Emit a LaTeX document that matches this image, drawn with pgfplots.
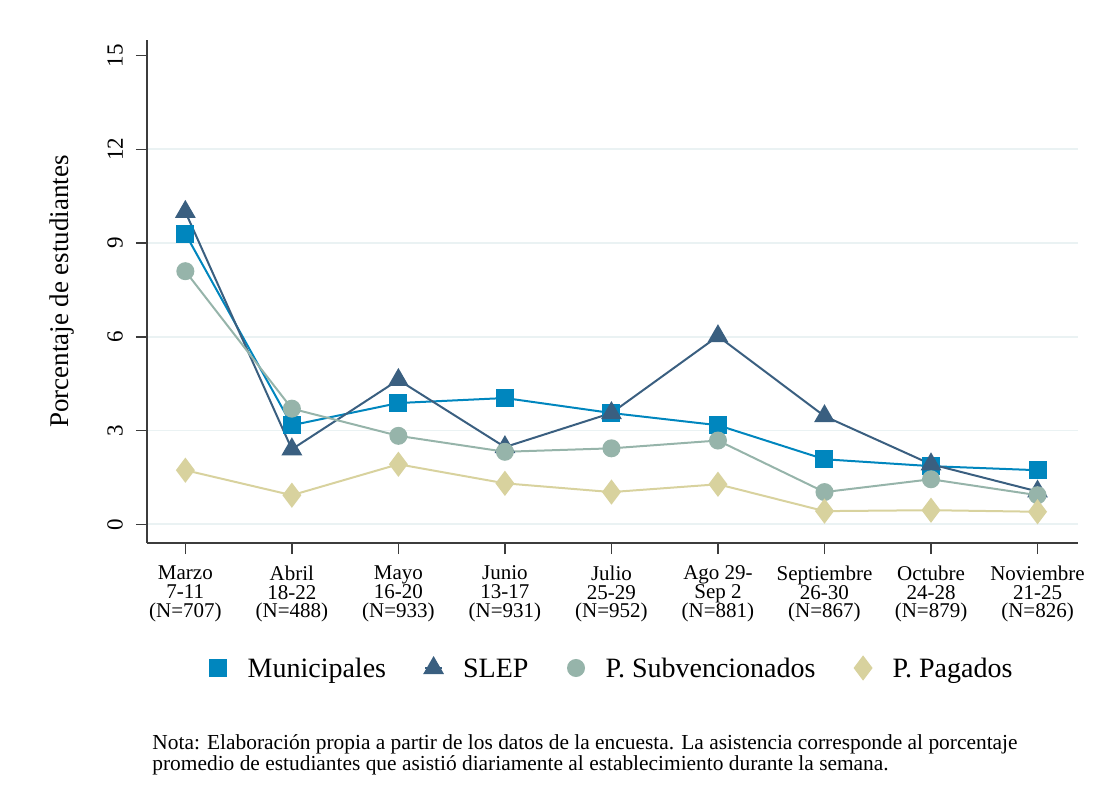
\documentclass[border=0pt]{standalone}
\usepackage{pgfplots}
\pgfplotsset{compat=1.18}
\usepackage{fontspec}
\setmainfont{Liberation Serif}

\definecolor{muni}{RGB}{0,134,190}
\definecolor{slep}{RGB}{58,95,128}
\definecolor{subv}{RGB}{150,180,170}
\definecolor{paga}{RGB}{216,210,158}
\definecolor{gridc}{RGB}{234,242,243}
\definecolor{axc}{RGB}{60,60,60}

\newcommand\ticklabfont{\fontsize{10.5}{9.3}\selectfont\lineskiplimit=-20pt\relax\lineskip=0pt\relax}

\begin{document}
\begin{tikzpicture}
% page frame, 1px = 0.5pt
\path[use as bounding box] (-73.5pt,-129.5pt) rectangle (479.5pt,271.5pt);

\begin{axis}[
    at={(0,0)}, anchor=south west,
    scale only axis,
    width=465.5pt, height=251.5pt,
    xmin=-0.36, xmax=8.38,
    ymin=-0.6, ymax=15.5,
    axis x line*=bottom, axis y line*=left,
    axis line style={axc, line width=0.75pt},
    xtick={0,...,8},
    xticklabels={
        {Marzo\\7-11\\(N=707)},
        {Abril\\18-22\\(N=488)},
        {Mayo\\16-20\\(N=933)},
        {Junio\\13-17\\(N=931)},
        {Julio\\25-29\\(N=952)},
        {Ago 29-\\Sep 2\\(N=881)},
        {Septiembre\\26-30\\(N=867)},
        {Octubre\\24-28\\(N=879)},
        {Noviembre\\21-25\\(N=826)}},
    xticklabel style={align=center, font=\ticklabfont, yshift=-2.5pt},
    ytick={0,3,...,12},
    extra y ticks={15},
    extra y tick style={grid=none},
    yticklabel style={rotate=90, anchor=south, font=\fontsize{11.5}{12}\selectfont, yshift=3pt},
    /pgf/number format/assume math mode=true,
    tick align=outside,
    major tick length=5.5pt,
    tick style={axc, line width=0.75pt},
    ymajorgrids,
    grid style={gridc, line width=0.9pt},
    ylabel={Porcentaje de estudiantes},
    every axis y label/.style={at={(axis description cs:-0.0913,0.5)}, anchor=center, rotate=90,
        font=\fontsize{13.5}{14}\selectfont},
    legend columns=4,
    legend style={at={(0.5,-0.2485)}, anchor=center, draw=none, fill=none,
        font=\fontsize{14}{15}\selectfont,
        /tikz/every odd column/.append style={column sep=8pt},
        /tikz/every even column/.append style={column sep=17pt}},
    legend image code/.code={
        \draw[#1, mark repeat=2, mark phase=2] plot coordinates {(-0.1cm,0cm)(0.05cm,0cm)(0.2cm,0cm)};},
]

\addplot[muni, line width=1pt, mark=square*, mark size=4pt, mark options={fill=muni, draw=muni}] coordinates {
    (0,9.30) (1,3.17) (2,3.88) (3,4.04) (4,3.56) (5,3.17) (6,2.08) (7,1.86) (8,1.73)
};
\addlegendentry{Municipales\strut}

\addplot[slep, line width=1pt, mark=triangle*, mark size=5pt, mark options={fill=slep, draw=slep}] coordinates {
    (0,10.00) (1,2.40) (2,4.62) (3,2.47) (4,3.56) (5,6.02) (6,3.46) (7,1.92) (8,1.05)
};
\addlegendentry{SLEP\strut}

\addplot[subv, line width=1pt, mark=*, mark size=4pt, mark options={fill=subv, draw=subv}] coordinates {
    (0,8.10) (1,3.70) (2,2.83) (3,2.32) (4,2.43) (5,2.68) (6,1.03) (7,1.44) (8,0.93)
};
\addlegendentry{P. Subvencionados\strut}

\addplot[paga, line width=1pt, mark=diamond*, mark size=5.5pt, mark options={fill=paga, draw=paga}] coordinates {
    (0,1.73) (1,0.93) (2,1.92) (3,1.31) (4,1.03) (5,1.28) (6,0.42) (7,0.45) (8,0.40)
};
\addlegendentry{P. Pagados\strut}

\end{axis}

\node[anchor=north west, inner sep=0pt, align=left, font=\fontsize{10.7}{9.2}\selectfont] at (2.5pt,-95.5pt)
  {Nota: Elaboración propia a partir de los datos de la encuesta. La asistencia corresponde al porcentaje\\
   promedio de estudiantes que asistió diariamente al establecimiento durante la semana.};
\end{tikzpicture}
\end{document}
